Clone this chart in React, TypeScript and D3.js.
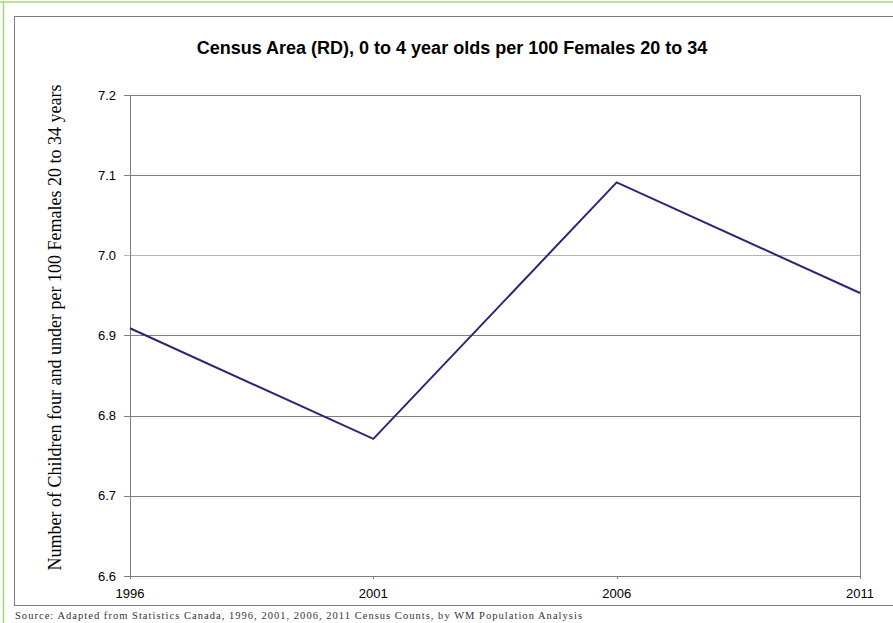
import React from "react";
import * as d3 from "d3";

const years = [1996, 2001, 2006, 2011];
const ratios = [6.909, 6.771, 7.091, 6.953];
const yTicks = [6.6, 6.7, 6.8, 6.9, 7.0, 7.1, 7.2];

const title = "Census Area (RD), 0 to 4 year olds per 100 Females 20 to 34";
const yLabel = "Number of Children four and under per 100 Females 20 to 34 years";
const source =
  "Source: Adapted from Statistics Canada, 1996, 2001, 2006, 2011 Census Counts, by WM Population Analysis";

const W = 893;
const H = 623;
const plot = { left: 130, right: 860, top: 95, bottom: 576 };

export default function App() {
  const x = d3.scaleLinear().domain([1996, 2011]).range([plot.left, plot.right]);
  const y = d3.scaleLinear().domain([6.6, 7.2]).range([plot.bottom, plot.top]);
  const line = d3
    .line<number>()
    .x((_, i) => x(years[i]))
    .y((d) => y(d));

  const sans = "Liberation Sans, Arial, sans-serif";
  const serif = "Liberation Serif, Times New Roman, serif";

  return (
    <svg
      width={W}
      height={H}
      style={{ position: "absolute", left: 0, top: 0, background: "#fff" }}
    >
      {/* outer page rules */}
      <line x1={0} x2={W} y1={2} y2={2} stroke="#a8d870" strokeWidth={1.5} />
      <line x1={3.5} x2={3.5} y1={2} y2={H} stroke="#a8d870" strokeWidth={1.5} />
      {/* chart frame */}
      <rect x={14.5} y={16.5} width={W} height={589} fill="#fff" stroke="#7f7f7f" strokeWidth={1} />

      <text x={452} y={54} textAnchor="middle" fontFamily={sans} fontWeight="bold" fontSize={18} fill="#000">
        {title}
      </text>

      {/* gridlines */}
      {yTicks.map((t) => (
        <line
          key={t}
          x1={plot.left - 6}
          x2={plot.right}
          y1={Math.round(y(t)) + 0.5}
          y2={Math.round(y(t)) + 0.5}
          stroke={t === 7.0 ? "#b4b4b4" : "#808080"}
          strokeWidth={1}
        />
      ))}
      {yTicks.map((t) => (
        <text
          key={"l" + t}
          x={plot.left - 14}
          y={y(t)}
          dy="0.35em"
          textAnchor="end"
          fontFamily={sans}
          fontSize={13}
          fill="#000"
        >
          {t.toFixed(1)}
        </text>
      ))}

      {/* axes */}
      <line x1={plot.left + 0.5} x2={plot.left + 0.5} y1={plot.top} y2={plot.bottom} stroke="#808080" />
      <line x1={plot.right + 0.5} x2={plot.right + 0.5} y1={plot.top} y2={plot.bottom + 3} stroke="#808080" />
      {years.map((yr) => (
        <g key={yr}>
          <line
            x1={Math.round(x(yr)) + 0.5}
            x2={Math.round(x(yr)) + 0.5}
            y1={plot.bottom}
            y2={plot.bottom + 3}
            stroke="#808080"
          />
          <text
            x={x(yr)}
            y={593}
            dy="0.35em"
            textAnchor="middle"
            fontFamily={sans}
            fontSize={13}
            fill="#000"
          >
            {yr}
          </text>
        </g>
      ))}

      <path d={line(ratios) ?? ""} fill="none" stroke="#2b2778" strokeWidth={2} />

      <text
        transform={`translate(61, ${(plot.top + plot.bottom) / 2 - 8}) rotate(-90)`}
        textAnchor="middle"
        fontFamily={serif}
        fontSize={18}
        fill="#000"
      >
        {yLabel}
      </text>

      <text
        x={15}
        y={619}
        fontFamily={serif}
        fontSize={10.5}
        fill="#333"
        textLength={567}
        lengthAdjust="spacing"
      >
        {source}
      </text>
    </svg>
  );
}
